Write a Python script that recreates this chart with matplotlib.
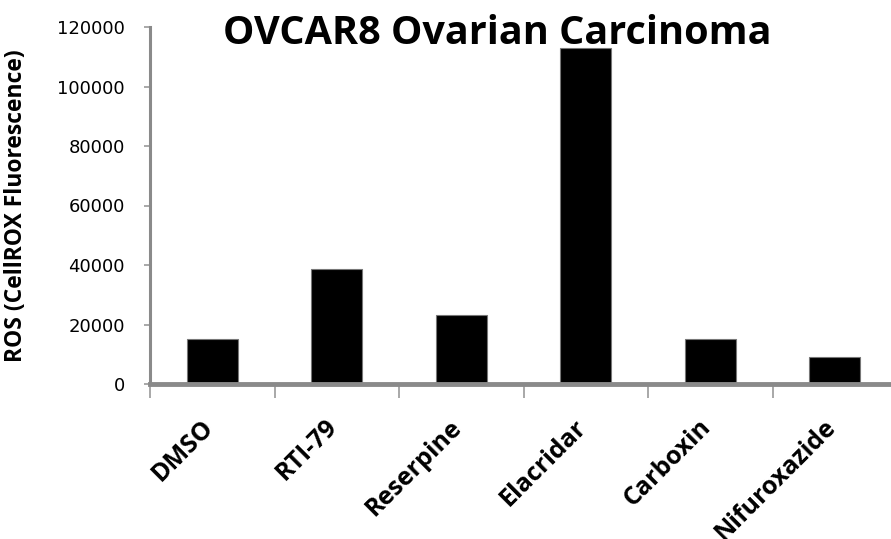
import matplotlib
matplotlib.use("Agg")
import matplotlib.pyplot as plt
import matplotlib.transforms as mtransforms
import numpy as np

# Data
categories = ["DMSO", "RTI-79", "Reserpine", "Elacridar", "Carboxin", "Nifuroxazide"]
ros_values = [15200, 38500, 23100, 113000, 15200, 9000]
y_ticks = [0, 20000, 40000, 60000, 80000, 100000, 120000]

plt.rcParams["font.family"] = ["Open Sans", "DejaVu Sans"]

fig = plt.figure(figsize=(8.91, 5.39), dpi=100)
ax = fig.add_axes([150 / 891, 1 - 384 / 539, 747 / 891, 357 / 539])

x = np.arange(len(categories))
ax.bar(x, ros_values, width=0.41, color="black", edgecolor="#777777", linewidth=0.8, zorder=3)

ax.set_xlim(-0.5, len(categories) - 0.5)
ax.set_ylim(0, 120000)
ax.set_yticks(y_ticks)
ax.set_yticklabels([str(v) for v in y_ticks], fontsize=13, family="DejaVu Sans")

# Category labels centred under each bar, ticks on the category boundaries
ax.set_xticks(x)
ax.set_xticklabels(categories, rotation=45, ha="right", fontsize=18, fontweight="bold")
ax.tick_params(axis="x", which="major", length=0, pad=22)
shift = mtransforms.ScaledTranslation(6 / 100, 0, fig.dpi_scale_trans)
for lbl in ax.get_xticklabels():
    lbl.set_transform(lbl.get_transform() + shift)
ax.set_xticks(np.arange(len(categories) + 1) - 0.5, minor=True)
ax.tick_params(axis="x", which="minor", length=10, width=1.2, color="#999999", direction="out")
ax.tick_params(axis="y", length=4, width=1.2, color="#999999", pad=14)

for side in ("top", "right"):
    ax.spines[side].set_visible(False)
ax.spines["left"].set_color("#8a8a8a")
ax.spines["left"].set_linewidth(2.2)
ax.spines["bottom"].set_color("#8a8a8a")
ax.spines["bottom"].set_linewidth(3.5)
ax.spines["bottom"].set_zorder(4)

ax.set_ylabel("ROS (CellROX Fluorescence)", fontsize=16.5, fontweight="bold")
ax.yaxis.set_label_coords(-0.163, 0.5)

fig.text(497 / 891, 1 - 33 / 539, "OVCAR8 Ovarian Carcinoma", ha="center", va="center",
         fontsize=28.5, fontweight="bold", zorder=5)

fig.savefig("out.png", dpi=100)
